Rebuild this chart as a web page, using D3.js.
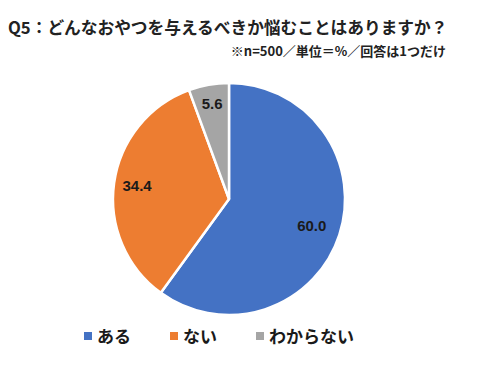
<!DOCTYPE html>
<html><head><meta charset="utf-8">
<script src="https://cdn.jsdelivr.net/npm/d3@7"></script>
<style>body{margin:0;background:#fff;}svg{display:block;font-family:"Noto Sans CJK JP",sans-serif;}</style>
</head><body>
<script>
const categories = ["ある", "ない", "わからない"];
const values = [60.0, 34.4, 5.6];
const labels = ["60.0", "34.4", "5.6"];
const colors = ["#4472C4", "#ED7D31", "#A5A5A5"];

const W = 478, H = 382;
const svg = d3.select("body").append("svg").attr("width", W).attr("height", H);

svg.append("text").attr("x", 8).attr("y", 34)
  .attr("font-size", 16.7).attr("font-weight", "bold").attr("fill", "#222")
  .text("Q5：どんなおやつを与えるべきか悩むことはありますか？");
svg.append("text").attr("x", 446).attr("y", 56).attr("text-anchor", "end")
  .attr("font-size", 13).attr("font-weight", "bold").attr("fill", "#222")
  .text("※n=500／単位＝%／回答は1つだけ");

const cx = 229, cy = 199, r = 116;
const pie = d3.pie().sort(null).value(d => d)(values);
const arc = d3.arc().innerRadius(0).outerRadius(r);
const g = svg.append("g").attr("transform", `translate(${cx},${cy})`);
g.selectAll("path").data(pie).join("path")
  .attr("d", arc).attr("fill", (d, i) => colors[i])
  .attr("stroke", "#fff").attr("stroke-width", 2.5).attr("stroke-linejoin", "round");

const labelR = [0.75, 0.8, 0.83];
g.selectAll("text").data(pie).join("text")
  .attr("transform", (d, i) => {
    const a = (d.startAngle + d.endAngle) / 2;
    const rr = r * labelR[i];
    return `translate(${Math.sin(a) * rr},${-Math.cos(a) * rr})`;
  })
  .attr("text-anchor", "middle").attr("dy", "0.35em")
  .attr("font-family", "Liberation Sans, Arial, sans-serif")
  .attr("font-size", 15).attr("font-weight", "bold").attr("fill", "#1a1a1a")
  .text((d, i) => labels[i]);

const legX = [84, 170, 256];
const lg = svg.append("g");
categories.forEach((c, i) => {
  lg.append("rect").attr("x", legX[i]).attr("y", 332).attr("width", 8).attr("height", 8).attr("fill", colors[i]);
  lg.append("text").attr("x", legX[i] + 13).attr("y", 343)
    .attr("font-size", 17).attr("font-weight", "bold").attr("fill", "#1a1a1a").text(c);
});
</script>
</body></html>
